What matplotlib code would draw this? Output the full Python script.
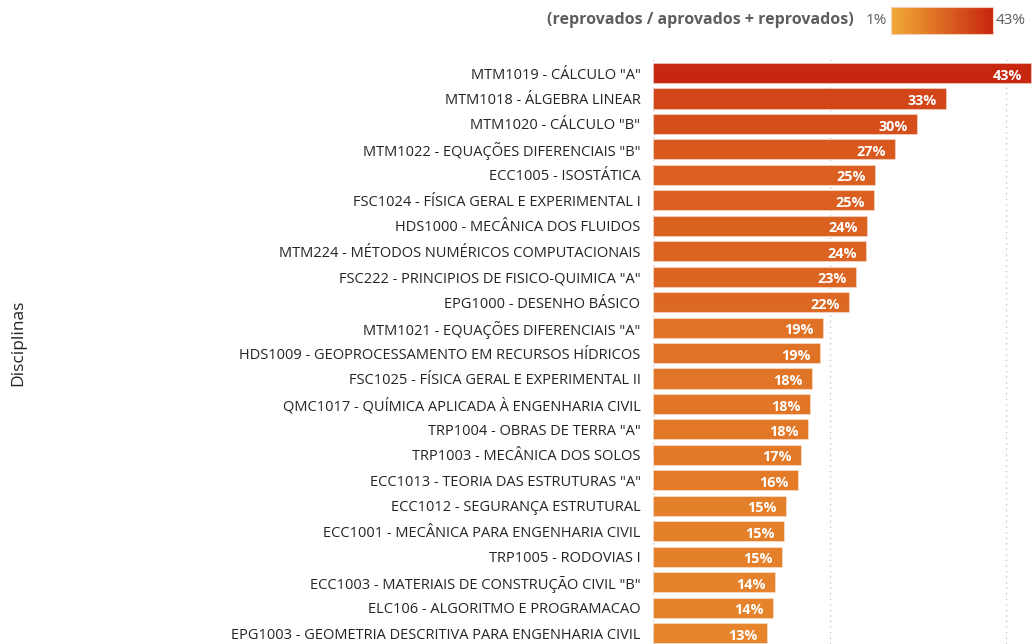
import matplotlib
matplotlib.use("Agg")
import matplotlib.pyplot as plt
import numpy as np
from matplotlib.colors import LinearSegmentedColormap, Normalize

categories = [
    'MTM1019 - CÁLCULO "A"',
    'MTM1018 - ÁLGEBRA LINEAR',
    'MTM1020 - CÁLCULO "B"',
    'MTM1022 - EQUAÇÕES DIFERENCIAIS "B"',
    'ECC1005 - ISOSTÁTICA',
    'FSC1024 - FÍSICA GERAL E EXPERIMENTAL I',
    'HDS1000 - MECÂNICA DOS FLUIDOS',
    'MTM224 - MÉTODOS NUMÉRICOS COMPUTACIONAIS',
    'FSC222 - PRINCIPIOS DE FISICO-QUIMICA "A"',
    'EPG1000 - DESENHO BÁSICO',
    'MTM1021 - EQUAÇÕES DIFERENCIAIS "A"',
    'HDS1009 - GEOPROCESSAMENTO EM RECURSOS HÍDRICOS',
    'FSC1025 - FÍSICA GERAL E EXPERIMENTAL II',
    'QMC1017 - QUÍMICA APLICADA À ENGENHARIA CIVIL',
    'TRP1004 - OBRAS DE TERRA "A"',
    'TRP1003 - MECÂNICA DOS SOLOS',
    'ECC1013 - TEORIA DAS ESTRUTURAS "A"',
    'ECC1012 - SEGURANÇA ESTRUTURAL',
    'ECC1001 - MECÂNICA PARA ENGENHARIA CIVIL',
    'TRP1005 - RODOVIAS I',
    'ECC1003 - MATERIAIS DE CONSTRUÇÃO CIVIL "B"',
    'ELC106 - ALGORITMO E PROGRAMACAO',
    'EPG1003 - GEOMETRIA DESCRITIVA PARA ENGENHARIA CIVIL',
]
values = [42.8, 33.1, 29.9, 27.4, 25.1, 25.0, 24.2, 24.1, 23.0, 22.2,
          19.2, 18.9, 18.0, 17.8, 17.5, 16.8, 16.4, 15.1, 14.8, 14.6,
          13.8, 13.6, 12.9]
legend_title = "(reprovados / aprovados + reprovados)"
legend_min, legend_max = 1, 43
xticks = [0, 20, 40]

W, H = 1033, 644
fig = plt.figure(figsize=(W / 100, H / 100), dpi=100)
plt.rcParams['font.family'] = ['Open Sans', 'DejaVu Sans']

cmap = LinearSegmentedColormap.from_list("g", ["#F2AB37", "#C8260F"])
norm = Normalize(legend_min, legend_max)

ax_left = 653 / W
ax_top = 1 - 55 / H
ax = fig.add_axes([ax_left, 0, 1 - ax_left, ax_top])
y = np.arange(len(categories))
colors = [cmap(norm(v)) for v in values]
ax.barh(y, values, height=0.79, color=colors, edgecolor=(1, 1, 1, 0.35), linewidth=0.8, zorder=3)
ax.set_xlim(0, 43.0)
ax.set_ylim(22.43, -0.71)
ax.set_yticks(y)
ax.set_yticklabels(categories, fontsize=10.5, color="#252423")
ax.tick_params(axis="y", length=0, pad=9)
ax.set_xticks(xticks)
ax.tick_params(axis="x", length=0, labelbottom=False)
ax.grid(axis="x", color="#C8C6C4", linestyle=(0, (1, 3)), linewidth=1, zorder=0)
for s in ax.spines.values():
    s.set_visible(False)

for yi, v in zip(y, values):
    ax.text(v - 1.05, yi + 0.1, f"{round(v):d}%", ha="right", va="center",
            color="white", fontsize=10.4, fontweight="bold", zorder=4)

fig.text(18 / W, 1 - 343 / H, "Disciplinas", rotation=90, ha="center", va="center",
         fontsize=12.5, color="#252423")

# legend
ty = 1 - 20 / H
fig.text(854 / W, ty, legend_title, ha="right", va="center", fontsize=11.5,
         fontweight="bold", color="#605E5C")
fig.text(876 / W, ty, f"{legend_min}%", ha="center", va="center", fontsize=11, color="#605E5C")
fig.text(1011 / W, ty, f"{legend_max}%", ha="center", va="center", fontsize=11, color="#605E5C")
cax = fig.add_axes([891 / W, 1 - 34 / H, 102 / W, 27 / H])
grad = np.linspace(0, 1, 256).reshape(1, -1)
cax.imshow(grad, aspect="auto", cmap=cmap, extent=[0, 1, 0, 1])
cax.set_xticks([]); cax.set_yticks([])
for s in cax.spines.values():
    s.set_color("#F5D0B8")
    s.set_linewidth(0.8)

fig.savefig("out.png", dpi=100)
